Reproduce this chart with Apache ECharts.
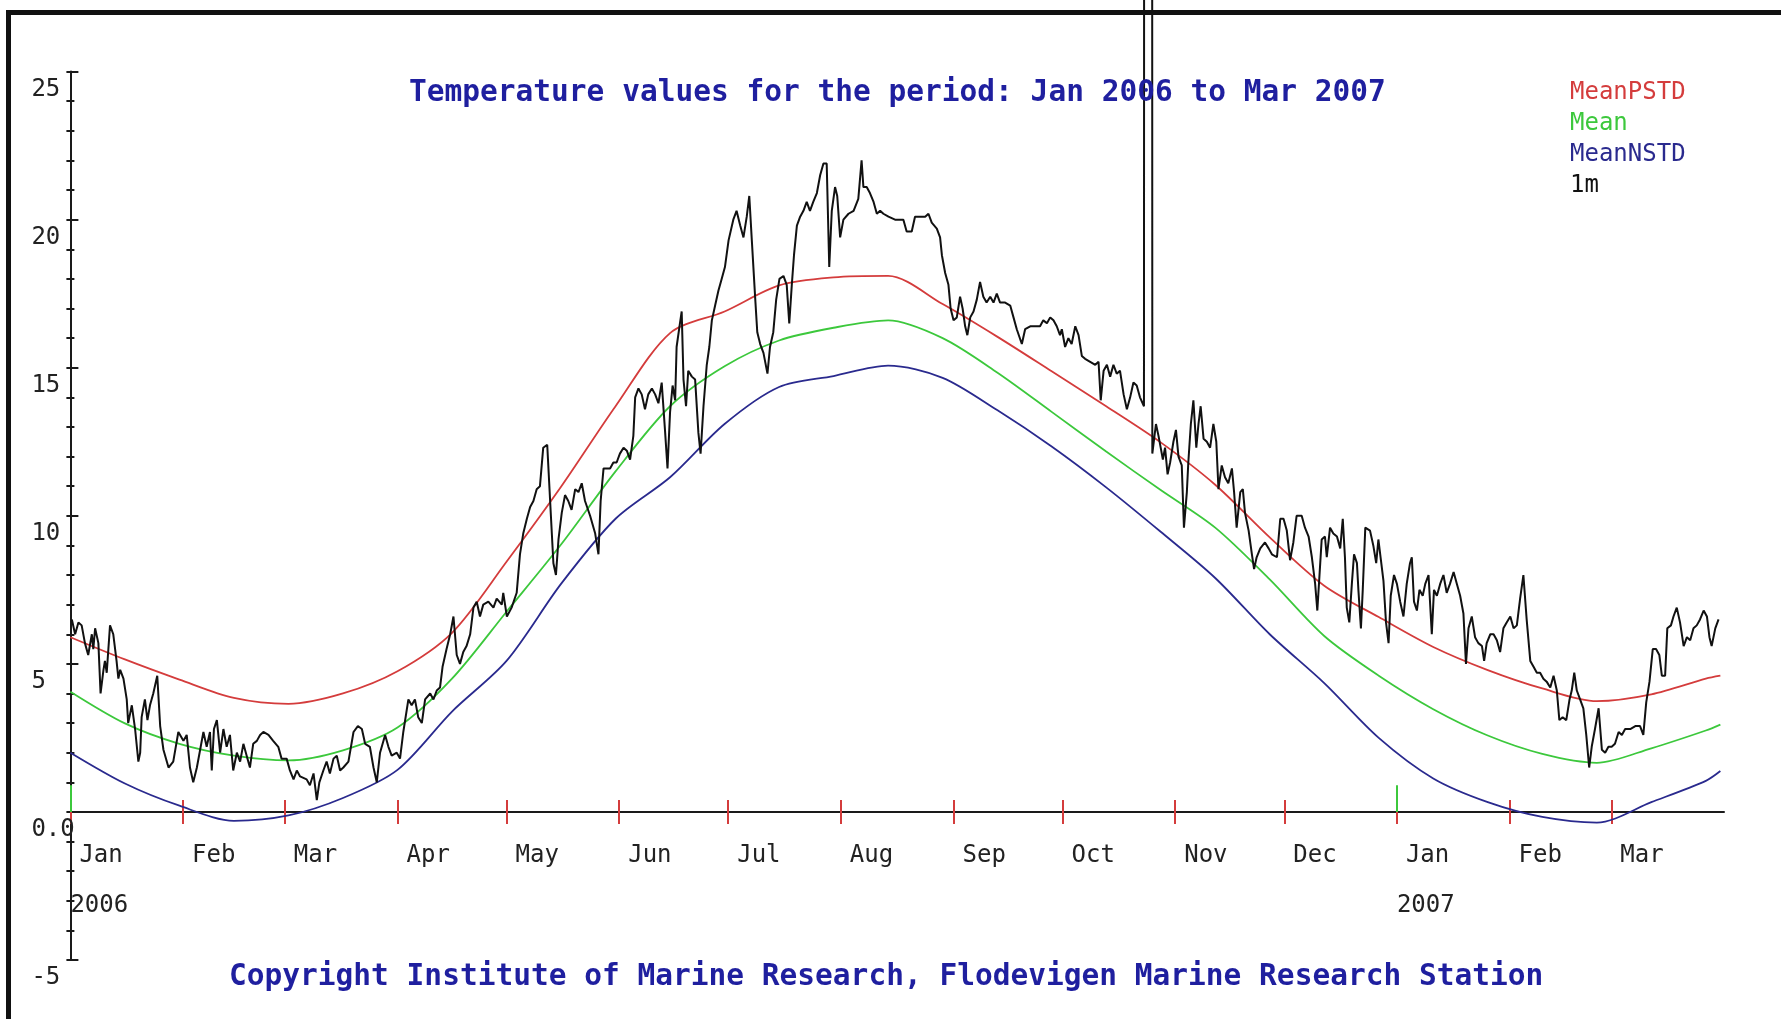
<!DOCTYPE html>
<html>
<head>
<meta charset="utf-8">
<title>Temperature 2006-2007</title>
<script src="https://cdn.jsdelivr.net/npm/echarts@6/dist/echarts.min.js"></script>
<style>
  html, body { margin: 0; padding: 0; background: #fff; }
  #chart { width: 1781px; height: 1019px; }
</style>
</head>
<body>
<div id="chart"></div>
<script>
// x values are days counted from 1 Jan 2006
const monthTickDays = [0, 31, 59, 90, 120, 151, 181, 212, 243, 273, 304, 334, 365, 396, 424]
const monthNames = ['Jan', 'Feb', 'Mar', 'Apr', 'May', 'Jun', 'Jul', 'Aug', 'Sep', 'Oct', 'Nov', 'Dec', 'Jan', 'Feb', 'Mar']
const yearLabels = { 0: '2006', 365: '2007' }

// climatology curves, sampled about every 15 days
const curveDays = [0, 15, 30, 45, 60, 75, 90, 105, 120, 135, 150, 165, 180, 195, 210, 225,
  240, 255, 270, 285, 300, 315, 330, 345, 360, 375, 390, 405, 420, 435, 450, 454]
const meanPSTD = [5.9, 5.15, 4.47, 3.85, 3.65, 4.0, 4.75, 6.05, 8.45, 10.98, 13.7, 16.17, 16.9, 17.78, 18.05, 18.1,
  17.15, 16.05, 14.88, 13.7, 12.48, 11.05, 9.27, 7.64, 6.58, 5.57, 4.79, 4.17, 3.74, 3.97, 4.5, 4.6]
const meanValues = [4.06, 2.99, 2.3, 1.9, 1.74, 2.08, 2.85, 4.5, 6.76, 9.03, 11.5, 13.7, 15.05, 15.92, 16.35, 16.6,
  16.0, 14.84, 13.51, 12.17, 10.87, 9.6, 7.85, 5.94, 4.6, 3.47, 2.58, 1.96, 1.66, 2.15, 2.75, 2.95]
const meanNSTD = [2.0, 0.96, 0.21, -0.3, -0.12, 0.47, 1.42, 3.39, 5.1, 7.7, 9.9, 11.3, 13.1, 14.35, 14.72, 15.07,
  14.66, 13.57, 12.34, 10.96, 9.46, 7.9, 6.0, 4.35, 2.5, 1.13, 0.33, -0.17, -0.36, 0.33, 1.05, 1.38]

// 1m observations [day, temperature]; the 99s are the off-scale spike in late October
const obs1m = [
  [0.4,6.5],[1.3,6.0],[2.2,6.4],[3.1,6.3],[4.0,5.7],[4.9,5.3],[5.9,6.0],[6.3,5.5],[6.8,6.2],[7.7,5.7],
  [8.3,4.0],[9.1,4.8],[9.5,5.1],[10.0,4.7],[10.9,6.3],[11.8,6.0],[12.7,5.1],[13.2,4.5],[13.7,4.8],[14.6,4.5],
  [15.5,3.8],[15.9,3.0],[16.9,3.6],[17.8,2.8],[18.7,1.7],[19.2,2.0],[19.6,3.2],[20.5,3.8],[21.2,3.1],[21.9,3.6],
  [22.8,4.0],[23.9,4.6],[24.7,2.9],[25.6,2.1],[27.0,1.5],[28.3,1.7],[29.7,2.7],[31.1,2.4],[32.0,2.6],[32.9,1.5],
  [33.8,1.0],[34.8,1.5],[35.7,2.1],[36.6,2.7],[37.5,2.2],[38.4,2.7],[38.9,1.4],[39.5,2.8],[40.3,3.1],[41.2,2.0],
  [42.1,2.8],[43.0,2.2],[43.9,2.6],[44.8,1.4],[45.8,2.0],[46.7,1.7],[47.6,2.3],[48.5,1.9],[49.4,1.5],[50.3,2.3],
  [51.3,2.4],[52.2,2.6],[53.1,2.7],[54.5,2.6],[55.8,2.4],[57.2,2.2],[58.1,1.8],[59.5,1.8],[60.4,1.4],[61.4,1.1],
  [62.3,1.4],[63.2,1.2],[65.0,1.1],[65.9,0.9],[66.9,1.3],[67.8,0.4],[68.5,1.0],[69.6,1.4],[70.5,1.7],[71.4,1.3],
  [72.4,1.8],[73.3,1.9],[74.2,1.4],[75.1,1.5],[76.5,1.7],[77.9,2.7],[79.1,2.9],[80.2,2.8],[81.1,2.3],[82.4,2.2],
  [83.4,1.5],[84.3,1.0],[85.2,2.0],[86.6,2.6],[87.5,2.2],[88.4,1.9],[89.8,2.0],[90.7,1.8],[91.6,2.7],[93.0,3.8],
  [93.9,3.6],[94.8,3.8],[95.7,3.2],[96.7,3.0],[97.6,3.8],[99.0,4.0],[99.9,3.8],[100.8,4.1],[101.7,4.2],[102.4,4.9],
  [103.5,5.5],[104.5,6.0],[105.4,6.6],[106.3,5.3],[107.2,5.0],[108.1,5.4],[109.0,5.6],
  [110.0,6.0],[110.9,6.9],[111.8,7.1],[112.7,6.6],[113.6,7.0],[115.0,7.1],[116.4,6.9],[117.3,7.2],[118.7,7.0],[119.1,7.4],
  [120.1,6.6],[121.4,6.9],[122.8,7.4],[123.7,8.7],[124.6,9.4],[125.6,9.9],[126.5,10.3],[127.4,10.5],[128.3,10.9],[129.2,11.0],
  [130.1,12.3],[131.2,12.4],[132.0,10.5],[132.9,8.4],[133.6,8.0],[134.3,9.2],[135.2,10.1],[136.1,10.7],[137.0,10.5],[137.9,10.2],
  [138.9,10.9],[139.8,10.8],[140.7,11.1],[141.6,10.5],[143.0,10.0],[144.4,9.4],[145.3,8.7],[145.9,10.5],[146.7,11.6],[147.6,11.6],
  [148.5,11.6],[149.4,11.8],[150.3,11.8],[151.2,12.1],[152.2,12.3],[153.1,12.2],[154.0,11.9],[154.9,12.7],[155.4,14.0],[156.3,14.3],
  [157.2,14.1],[158.1,13.6],[159.0,14.1],[160.0,14.3],[160.9,14.1],[161.8,13.8],[162.7,14.5],[163.6,12.9],[164.3,11.6],[165.0,13.5],
  [165.7,14.4],[166.4,13.9],[166.8,15.7],[167.6,16.4],[168.2,16.9],[168.7,14.6],[169.4,13.7],[170.0,14.9],[171.0,14.7],[171.9,14.6],
  [172.8,12.8],[173.4,12.1],[174.2,13.7],[175.1,15.1],[175.8,15.7],[176.5,16.6],[177.4,17.1],[178.3,17.6],[179.2,18.0],[180.1,18.4],
  [181.1,19.3],[182.4,20.0],[183.3,20.3],[184.3,19.8],[185.2,19.4],[186.1,20.1],[186.8,20.8],[187.5,19.3],[188.4,17.4],[189.0,16.2],
  [189.8,15.8],[190.7,15.5],[191.8,14.8],[192.5,15.7],[193.4,16.2],[194.2,17.3],[195.1,18.0],[196.2,18.1],[197.1,17.8],[197.8,16.5],
  [198.5,17.8],[199.1,18.8],[199.9,19.8],[200.8,20.1],[201.7,20.3],[202.6,20.6],[203.5,20.3],[204.4,20.6],[205.4,20.9],[206.3,21.5],
  [207.2,21.9],[208.1,21.9],[208.8,18.4],[209.5,20.3],[210.4,21.1],[211.0,20.8],[211.8,19.4],[212.7,20.0],[214.1,20.2],[215.5,20.3],
  [216.8,20.7],[217.7,22.0],[218.2,21.1],[219.1,21.1],[220.0,20.9],[221.0,20.6],[221.9,20.2],[222.8,20.3],[223.7,20.2],
  [225.1,20.1],[226.9,20.0],[229.2,20.0],[230.1,19.6],[231.5,19.6],[232.4,20.1],[233.8,20.1],[235.2,20.1],[236.1,20.2],[237.0,19.9],
  [238.4,19.7],[239.3,19.4],[239.8,18.8],[240.7,18.2],[241.6,17.8],[242.2,17.0],[243.0,16.6],[243.9,16.7],[244.8,17.4],[245.5,17.0],
  [246.2,16.4],[246.8,16.1],[247.6,16.7],[248.5,16.9],[249.4,17.3],[250.3,17.9],[251.2,17.4],[252.1,17.2],[253.1,17.4],[254.0,17.2],
  [254.9,17.5],[255.8,17.2],[257.2,17.2],[258.6,17.1],[259.5,16.7],[260.4,16.3],[261.8,15.8],[262.7,16.3],[264.1,16.4],[265.4,16.4],
  [266.8,16.4],[267.7,16.6],[268.7,16.5],[269.6,16.7],[270.5,16.6],[271.4,16.4],[272.3,16.1],[272.8,16.3],[273.7,15.7],[274.6,16.0],
  [275.5,15.8],[276.5,16.4],[277.4,16.1],[278.3,15.4],[279.2,15.3],[280.6,15.2],[282.0,15.1],[282.9,15.2],[283.5,13.9],[284.3,14.9],
  [285.2,15.1],[286.1,14.7],[287.0,15.1],[287.9,14.8],[288.8,14.9],[289.8,14.1],[290.7,13.6],[291.6,14.0],[292.5,14.5],[293.4,14.4],
  [294.3,14.0],[295.4,13.7],[295.6,99],[297.5,99],
  [297.7,12.1],[298.7,13.1],[299.4,12.7],[300.0,12.3],[300.6,11.9],[301.2,12.3],[301.9,11.4],[302.6,11.8],[303.5,12.5],[304.2,12.9],
  [304.9,12.0],[305.8,11.7],[306.4,9.6],[307.2,10.8],[307.6,11.8],[308.3,13.1],[309.0,13.9],[309.8,12.3],[310.4,13.1],[311.0,13.7],
  [311.8,12.6],[312.7,12.5],[313.6,12.3],[314.5,13.1],[315.3,12.5],[315.9,10.9],[316.8,11.7],[317.7,11.3],[318.6,11.1],[319.6,11.6],
  [320.2,10.8],[320.9,9.6],[321.9,10.8],[322.6,10.9],[323.2,10.1],[324.2,9.5],[325.1,8.7],[325.7,8.2],[326.4,8.6],[327.4,8.9],
  [328.7,9.1],[329.7,8.9],[330.6,8.7],[332.0,8.6],[332.9,9.9],[333.8,9.9],[334.7,9.5],
  [335.6,8.5],[336.5,9.1],[337.4,10.0],[338.8,10.0],[339.7,9.6],[340.7,9.3],[341.6,8.6],[342.5,7.7],[343.1,6.8],[343.9,8.4],
  [344.3,9.2],[345.2,9.3],[345.7,8.6],[346.6,9.6],[347.5,9.4],[348.5,9.3],[349.4,8.9],[350.1,9.9],[350.7,8.6],[351.2,6.9],
  [351.9,6.4],[352.6,7.7],[353.2,8.7],[354.0,8.4],[354.4,7.5],[355.1,6.2],[355.6,7.5],[356.3,9.6],[357.6,9.5],[358.5,9.0],
  [359.3,8.4],[359.9,9.2],[360.6,8.5],[361.3,7.8],[362.0,6.4],[362.7,5.7],[363.3,7.3],[364.2,8.0],[365.0,7.7],[365.9,7.1],
  [366.8,6.6],[367.7,7.7],[368.6,8.4],[369.1,8.6],[369.7,7.1],[370.5,6.8],[371.2,7.5],[372.1,7.3],[372.8,7.7],[373.7,8.0],
  [374.6,6.0],[375.2,7.5],[376.0,7.3],[376.9,7.7],[377.8,8.0],[378.7,7.4],[379.6,7.7],[380.6,8.1],[381.5,7.7],[382.4,7.3],
  [383.3,6.7],[384.0,5.0],[384.7,6.2],[385.6,6.6],[386.5,5.9],[387.4,5.7],[388.4,5.6],[389.0,5.1],[389.7,5.7],[390.7,6.0],
  [391.6,6.0],[392.5,5.8],[393.4,5.4],[394.3,6.2],[395.2,6.4],[396.2,6.6],[397.1,6.2],[398.0,6.3],[398.9,7.2],[399.8,8.0],
  [400.7,6.5],[401.7,5.1],[402.6,4.9],[403.5,4.7],[404.4,4.7],[405.3,4.5],[406.2,4.4],[407.2,4.2],[408.1,4.6],[409.0,4.1],
  [409.7,3.1],[410.6,3.2],[411.6,3.1],[412.5,3.8],[413.1,4.1],[413.8,4.7],[414.5,4.1],[415.4,3.8],[416.3,3.5],[417.1,2.6],
  [417.9,1.5],[418.6,2.2],[419.5,2.8],[420.5,3.5],[421.4,2.1],[422.3,2.0],[423.2,2.2],[424.1,2.2],[425.0,2.3],[426.0,2.7],
  [426.9,2.6],[427.8,2.8],[429.2,2.8],[430.6,2.9],[431.9,2.9],[432.8,2.6],[433.6,3.7],[434.5,4.4],[435.4,5.5],[436.3,5.5],
  [437.2,5.3],[437.9,4.6],[438.8,4.6],[439.4,6.2],[440.4,6.3],[441.1,6.6],[442.0,6.9],[442.9,6.4],[443.9,5.6],[444.8,5.9],
  [445.7,5.8],[446.6,6.2],[447.5,6.3],[448.4,6.5],[449.4,6.8],[450.3,6.6],[451.0,5.9],[451.6,5.6],[452.6,6.2],[453.5,6.5]
]

const monoFont = 'DejaVu Sans Mono'
const zip = (xs, ys) => xs.map((x, i) => [x, ys[i]])

// grid edges in px; the zero line sits 25/30 of the way down
const gridTop = 71.6
const gridBottom = 59
const plotHeight = 1019 - gridTop - gridBottom
const zeroFromBottom = plotHeight * 5 / 30

const tickRed = { color: '#d43c3c', width: 2 }
const axisBlack = { color: '#1a1a1a', width: 2 }

const option = {
  animation: false,
  backgroundColor: '#fff',
  grid: { left: 70.4, right: 57, top: gridTop, bottom: gridBottom, containLabel: false, outerBoundsMode: 'none' },
  title: [
    {
      text: 'Temperature values for the period: Jan 2006 to Mar 2007',
      left: 409, top: 78, padding: 0,
      textStyle: { fontFamily: monoFont, fontWeight: 'bold', fontSize: 29.5, color: '#1f1f9f' }
    },
    {
      text: 'Copyright Institute of Marine Research, Flodevigen Marine Research Station',
      left: 229, top: 962, padding: 0,
      textStyle: { fontFamily: monoFont, fontWeight: 'bold', fontSize: 29.5, color: '#1f1f9f' }
    }
  ],
  legend: {
    orient: 'vertical',
    left: 1560, top: 76,
    icon: 'none',
    itemWidth: 0, itemHeight: 14, itemGap: 7,
    selectedMode: false,
    textStyle: { fontFamily: monoFont, fontSize: 24 },
    data: [
      { name: 'MeanPSTD', textStyle: { color: '#d43c3c' } },
      { name: 'Mean', textStyle: { color: '#3cc83c' } },
      { name: 'MeanNSTD', textStyle: { color: '#2a2a8e' } },
      { name: '1m', textStyle: { color: '#111' } }
    ]
  },
  xAxis: [
    {
      // bottom axis moved up onto the zero line, lower half of the month ticks + labels
      type: 'value', min: 0, max: 455, position: 'bottom', offset: -zeroFromBottom,
      axisLine: { onZero: false, lineStyle: axisBlack },
      splitLine: { show: false },
      axisTick: { show: true, customValues: monthTickDays, length: 12, lineStyle: tickRed },
      axisLabel: {
        customValues: monthTickDays,
        align: 'left', verticalAlign: 'top', margin: 19,
        formatter (val) {
          const i = monthTickDays.indexOf(val)
          if (i < 0) return ''
          let s = '{m|' + monthNames[i] + '}'
          if (yearLabels[val]) s += '\n{y|' + yearLabels[val] + '}'
          return s
        },
        rich: {
          m: { fontFamily: monoFont, fontSize: 24, color: '#222', lineHeight: 50, padding: [0, 0, 0, 9] },
          y: { fontFamily: monoFont, fontSize: 24, color: '#222', lineHeight: 50 }
        }
      }
    },
    {
      // top axis moved down onto the zero line, upper half of the month ticks
      type: 'value', min: 0, max: 455, position: 'top', offset: -(plotHeight - zeroFromBottom),
      axisLine: { show: false, onZero: false },
      splitLine: { show: false },
      axisTick: { show: true, customValues: monthTickDays, length: 12, lineStyle: tickRed },
      axisLabel: { show: false }
    }
  ],
  yAxis: [
    {
      type: 'value', min: -5, max: 25, interval: 5, position: 'left',
      axisLine: { show: true, onZero: false, lineStyle: axisBlack },
      splitLine: { show: false },
      axisTick: { show: true, length: 4, lineStyle: axisBlack },
      minorTick: { show: true, splitNumber: 5, length: 4, lineStyle: axisBlack },
      axisLabel: {
        align: 'left', verticalAlign: 'top', margin: 39,
        padding: [6, 0, 0, 0], lineHeight: 24,
        fontFamily: monoFont, fontSize: 24, color: '#222',
        formatter: (v) => v === 0 ? '0.0' : String(v)
      }
    },
    {
      type: 'value', min: -5, max: 25, interval: 5, position: 'left',
      axisLine: { show: false, onZero: false },
      splitLine: { show: false },
      axisTick: { show: true, inside: true, length: 8, lineStyle: axisBlack },
      minorTick: { show: true, splitNumber: 5, length: 4, lineStyle: axisBlack },
      axisLabel: { show: false }
    }
  ],
  series: [
    {
      name: 'MeanPSTD', type: 'line', smooth: 0.3, symbol: 'none',
      data: zip(curveDays, meanPSTD),
      lineStyle: { color: '#d43c3c', width: 1.8 }, itemStyle: { color: '#d43c3c' }
    },
    {
      name: 'Mean', type: 'line', smooth: 0.3, symbol: 'none',
      data: zip(curveDays, meanValues),
      lineStyle: { color: '#3cc83c', width: 1.8 }, itemStyle: { color: '#3cc83c' },
      markLine: {
        silent: true, symbol: 'none', label: { show: false },
        lineStyle: { color: '#3cc83c', width: 2, type: 'solid' },
        data: [
          [{ coord: [0, 0] }, { coord: [0, 0.9] }],
          [{ coord: [365, 0] }, { coord: [365, 0.9] }]
        ]
      }
    },
    {
      name: 'MeanNSTD', type: 'line', smooth: 0.3, symbol: 'none',
      data: zip(curveDays, meanNSTD),
      lineStyle: { color: '#2a2a8e', width: 1.8 }, itemStyle: { color: '#2a2a8e' }
    },
    {
      name: '1m', type: 'line', symbol: 'none', clip: false,
      data: obs1m,
      lineStyle: { color: '#111', width: 2 }, itemStyle: { color: '#111' }
    }
  ],
  graphic: [
    { type: 'rect', z: 100, shape: { x: 6, y: 10, width: 1775, height: 5 }, style: { fill: '#111' } },
    { type: 'rect', z: 100, shape: { x: 6, y: 10, width: 5, height: 1009 }, style: { fill: '#111' } }
  ]
}

const chart = echarts.init(document.getElementById('chart'))
chart.setOption(option)
</script>
</body>
</html>
